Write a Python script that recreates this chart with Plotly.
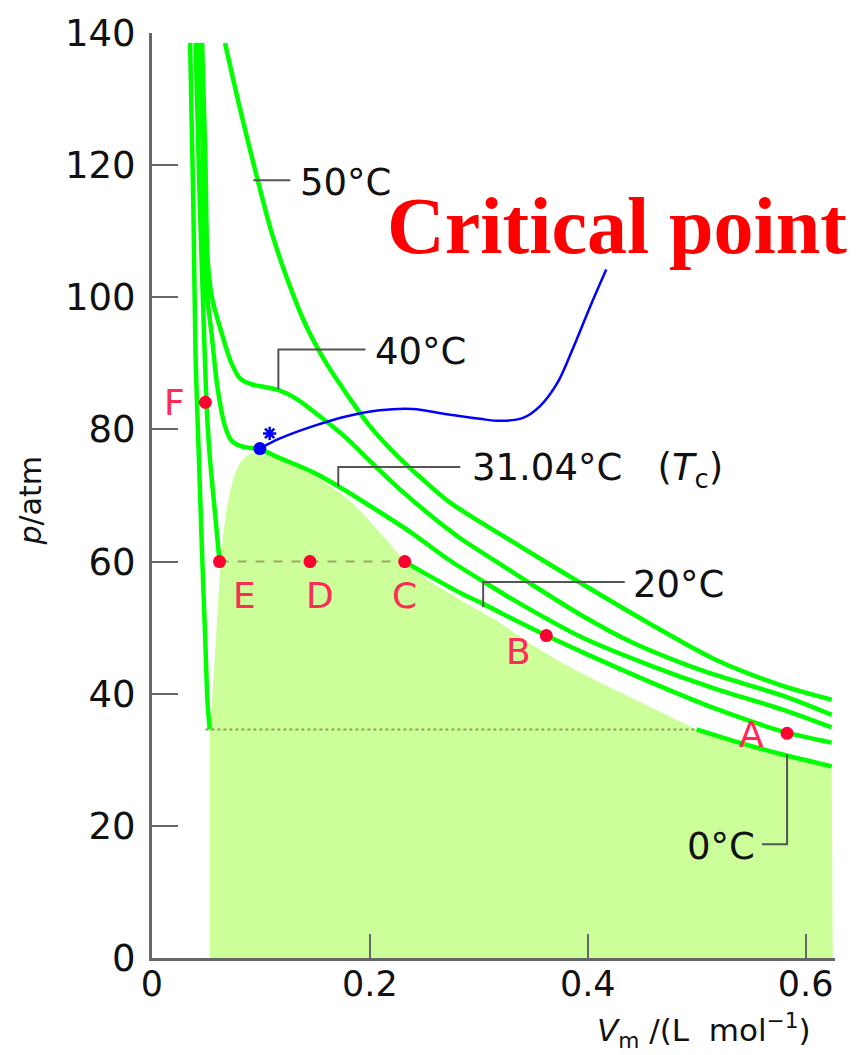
import plotly.graph_objects as go

# ---------------- data ----------------
# isotherms: molar volume Vm (L/mol) and pressure p (atm)
t50_v = [0.067, 0.081, 0.096, 0.110, 0.127, 0.142, 0.159, 0.179, 0.200, 0.225, 0.246, 0.273, 0.335, 0.395, 0.457, 0.518, 0.579, 0.624]
t50_p = [138.5, 128.4, 118.4, 109.7, 101.5, 95.5, 90.3, 85.3, 80.5, 76.0, 72.8, 69.0, 62.6, 56.6, 50.6, 45.1, 41.2, 39.1]

t40_v = [0.046, 0.049, 0.051, 0.055, 0.065, 0.073, 0.081, 0.092, 0.104, 0.117, 0.133, 0.157, 0.179, 0.197, 0.225, 0.255, 0.285, 0.317, 0.347, 0.395, 0.439, 0.487, 0.518, 0.579, 0.624]
t40_p = [138.5, 121.0, 106.0, 100.0, 94.0, 90.0, 87.7, 86.8, 86.4, 85.9, 84.6, 81.6, 78.6, 75.7, 71.3, 67.1, 63.3, 59.9, 56.7, 51.8, 47.9, 44.6, 42.8, 39.7, 36.8]

tc_v = [0.043, 0.047, 0.050, 0.055, 0.060, 0.067, 0.073, 0.081, 0.090, 0.099, 0.117, 0.148, 0.171, 0.209, 0.237, 0.273, 0.304, 0.335, 0.395, 0.457, 0.518, 0.579, 0.624]
tc_p = [138.5, 121.0, 101.5, 94.0, 86.5, 80.5, 78.3, 77.5, 77.2, 77.0, 75.7, 73.5, 71.4, 67.5, 64.5, 60.2, 57.0, 53.9, 48.5, 44.3, 40.7, 37.6, 34.9]

t20_liq_v = [0.040, 0.044, 0.047, 0.050, 0.053, 0.058, 0.062]
t20_liq_p = [138.5, 113.5, 98.5, 84.1, 76.0, 67.1, 60.0]
t20_gas_v = [0.232, 0.255, 0.285, 0.304, 0.335, 0.362, 0.395, 0.457, 0.518, 0.583, 0.624]
t20_gas_p = [60.0, 57.8, 55.1, 53.6, 51.0, 48.8, 46.3, 41.8, 37.7, 34.1, 32.6]
t20_tie_v = [0.062, 0.232]
t20_tie_p = [60.0, 60.0]

t0_liq_v = [0.035, 0.038, 0.040, 0.043, 0.046, 0.049, 0.051, 0.053]
t0_liq_p = [138.5, 113.5, 91.0, 76.0, 61.1, 47.6, 38.6, 34.6]
t0_gas_v = [0.500, 0.539, 0.579, 0.624]
t0_gas_p = [34.6, 32.6, 30.8, 29.0]
t0_tie_v = [0.049, 0.500]
t0_tie_p = [34.6, 34.6]

# two-phase region (shaded)
dome_v = [0.053, 0.053, 0.055, 0.057, 0.059, 0.061, 0.063, 0.065, 0.068, 0.072, 0.076, 0.081, 0.087, 0.093, 0.099, 0.107, 0.117, 0.132, 0.148, 0.163, 0.179, 0.194, 0.209, 0.221, 0.232, 0.255, 0.285, 0.317, 0.347, 0.377, 0.406, 0.436, 0.468, 0.500, 0.539, 0.579, 0.624, 0.625, 0.053]
dome_p = [0.0, 34.6, 38.5, 44.0, 50.6, 55.5, 60.0, 63.5, 67.5, 70.8, 73.3, 75.0, 76.0, 76.5, 76.6, 76.4, 75.6, 74.5, 73.1, 71.5, 69.6, 67.2, 64.5, 62.2, 60.0, 57.0, 54.0, 51.0, 47.6, 44.6, 42.1, 39.7, 37.1, 34.6, 32.6, 30.8, 29.0, 0.0, 0.0]

# blue pointer to the critical point
blue_v = [0.099, 0.117, 0.148, 0.179, 0.209, 0.239, 0.271, 0.301, 0.319, 0.340, 0.356, 0.372, 0.386, 0.402, 0.417]
blue_p = [77.1, 78.6, 80.5, 82.0, 82.9, 83.1, 82.3, 81.6, 81.3, 81.7, 83.5, 87.0, 92.1, 98.5, 104.2]

# state points
pt_names = ["A", "B", "C", "D", "E", "F"]
pt_v = [0.583, 0.362, 0.232, 0.145, 0.062, 0.049]
pt_p = [34.0, 48.8, 60.0, 60.0, 60.0, 84.1]

crit_v = [0.099]
crit_p = [77.1]

x_ticks = [0, 0.2, 0.4, 0.6]
x_ticktext = ["0", "0.2", "0.4", "0.6"]
y_ticks = [0, 20, 40, 60, 80, 100, 120, 140]

# ---------------- figure ----------------
GREEN = "#00ff00"
FONT = "DejaVu Sans"
fig = go.Figure()

fig.add_trace(go.Scatter(x=dome_v, y=dome_p, mode="lines", fill="toself",
                         fillcolor="#ccff99", line=dict(width=0),
                         hoverinfo="skip", showlegend=False))

fig.add_trace(go.Scatter(x=t0_tie_v, y=t0_tie_p, mode="lines",
                         line=dict(color="#8c9c5c", width=2, dash="dot"), showlegend=False))
fig.add_trace(go.Scatter(x=t20_tie_v, y=t20_tie_p, mode="lines",
                         line=dict(color="#99aa66", width=2, dash="dash"), showlegend=False))

for vx, py in [(t50_v, t50_p), (t40_v, t40_p), (tc_v, tc_p), (t20_liq_v, t20_liq_p),
               (t20_gas_v, t20_gas_p), (t0_liq_v, t0_liq_p), (t0_gas_v, t0_gas_p)]:
    fig.add_trace(go.Scatter(x=vx, y=py, mode="lines",
                             line=dict(color=GREEN, width=4.5, shape="spline", smoothing=0.8),
                             showlegend=False))

fig.add_trace(go.Scatter(x=blue_v, y=blue_p, mode="lines",
                         line=dict(color="#0000ff", width=2.5, shape="spline", smoothing=1.0),
                         showlegend=False))

fig.add_trace(go.Scatter(x=pt_v, y=pt_p, mode="markers",
                         marker=dict(color="#ff0033", size=13), showlegend=False))
fig.add_trace(go.Scatter(x=crit_v, y=crit_p, mode="markers",
                         marker=dict(color="#0000ff", size=13), showlegend=False))
fig.add_trace(go.Scatter(x=[crit_v[0] + 0.009], y=[crit_p[0] + 2.3], mode="markers",
                         marker=dict(symbol="asterisk-open", color="#0000ff", size=11,
                                     line=dict(color="#0000ff", width=2.5)), showlegend=False))

# leader lines for isotherm labels
leaders = [
    [(0.093, 117.7), (0.127, 117.7)],
    [(0.116, 86.1), (0.116, 92.1), (0.196, 92.1)],
    [(0.171, 71.4), (0.171, 74.3), (0.283, 74.3)],
    [(0.304, 53.1), (0.304, 56.9), (0.434, 56.9)],
    [(0.583, 30.8), (0.583, 17.2), (0.560, 17.2)],
]
for pts in leaders:
    path = "M " + " L ".join(f"{a},{b}" for a, b in pts)
    fig.add_shape(type="path", path=path, xref="x", yref="y",
                  line=dict(color="#555555", width=2))

tlabels = [
    ("50°C", 0.134, 117.4, "left"),
    ("40°C", 0.203, 91.8, "left"),
    ("31.04°C&nbsp;&nbsp;&nbsp;(<i>T</i><sub>c</sub>)", 0.292, 73.8, "left"),
    ("20°C", 0.440, 56.6, "left"),
    ("0°C", 0.555, 16.9, "right"),
]
for txt, ax_, ay_, anc in tlabels:
    fig.add_annotation(text=txt, x=ax_, y=ay_, xref="x", yref="y", showarrow=False,
                       xanchor=anc, yanchor="middle",
                       font=dict(family=FONT, size=37, color="#111111"))

# letter labels for state points
letter_pos = {"A": (0.550, 33.8), "B": (0.336, 46.4), "C": (0.232, 54.8),
              "D": (0.154, 54.8), "E": (0.085, 54.8), "F": (0.021, 84.1)}
for name in pt_names:
    lx, ly = letter_pos[name]
    fig.add_annotation(text=name, x=lx, y=ly, xref="x", yref="y", showarrow=False,
                       xanchor="center", yanchor="middle",
                       font=dict(family=FONT, size=36, color="#ff2a55"))

fig.add_annotation(text="<b>Critical point</b>", x=0.4266, y=110.8, xref="x", yref="y",
                   showarrow=False, xanchor="center", yanchor="middle",
                   font=dict(family="Liberation Serif", size=80, color="#ff0000"))

# axis titles
fig.add_annotation(text="<i>p</i>/atm", x=-0.178, y=0.495, xref="paper", yref="paper",
                   showarrow=False, textangle=-90, xanchor="center", yanchor="middle",
                   font=dict(family=FONT, size=30, color="#111111"))
fig.add_annotation(text="<i>V</i><sub>m</sub> /(L&nbsp;&nbsp;mol<sup>−1</sup>)", x=0.808, y=-0.078,
                   xref="paper", yref="paper", showarrow=False, xanchor="center", yanchor="middle",
                   font=dict(family=FONT, size=31, color="#111111"))

fig.update_layout(
    width=856, height=1055, autosize=False,
    margin=dict(l=152, r=21, t=23, b=97),
    paper_bgcolor="white", plot_bgcolor="white",
    showlegend=False,
)
fig.update_xaxes(range=[0, 0.627], tickvals=x_ticks, ticktext=x_ticktext,
                 ticks="inside", ticklen=24, tickwidth=2, tickcolor="#666666",
                 showline=True, linecolor="#666666", linewidth=3,
                 showgrid=False, zeroline=False, ticklabelstandoff=-7,
                 tickfont=dict(family=FONT, size=35, color="#111111"))
fig.update_yaxes(range=[0, 140], tickvals=y_ticks,
                 ticks="inside", ticklen=26, tickwidth=2, tickcolor="#666666",
                 showline=True, linecolor="#666666", linewidth=3,
                 showgrid=False, zeroline=False, ticklabelstandoff=6,
                 tickfont=dict(family=FONT, size=37, color="#111111"))

fig.write_html("out.html")
